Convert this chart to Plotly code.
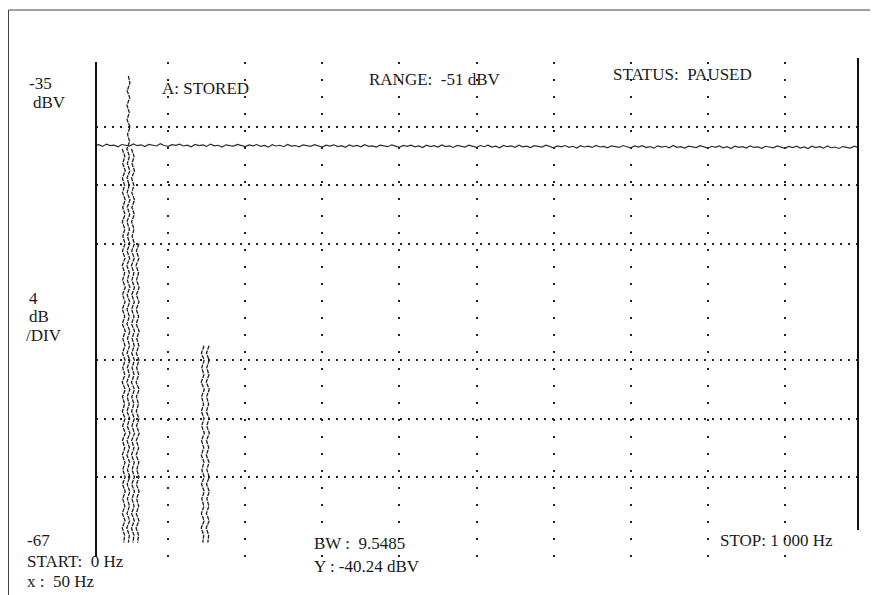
import plotly.graph_objects as go

# ---------------- data ----------------
freq_hz = [f for f in range(0, 1001, 5)]
trace_dbv = [
    -40.18, -40.29, -40.21, -40.33, -40.17, -40.27, -40.24, -40.35, -40.20, -40.26,
    -40.31, -40.16, -40.28, -40.22, -40.34, -40.19, -40.25, -40.30, -40.14, -40.27,
    -40.32, -40.21, -40.26, -40.18, -40.30, -40.24, -40.36, -40.20, -40.28, -40.23,
    -40.33, -40.17, -40.29, -40.25, -40.37, -40.22, -40.27, -40.31, -40.19, -40.28,
    -40.34, -40.23, -40.29, -40.20, -40.32, -40.26, -40.38, -40.21, -40.30, -40.25,
    -40.35, -40.19, -40.31, -40.27, -40.36, -40.23, -40.29, -40.33, -40.21, -40.30,
    -40.37, -40.24, -40.31, -40.22, -40.34, -40.28, -40.39, -40.23, -40.32, -40.26,
    -40.36, -40.21, -40.33, -40.29, -40.38, -40.25, -40.30, -40.35, -40.22, -40.31,
    -40.39, -40.26, -40.33, -40.24, -40.36, -40.29, -40.41, -40.25, -40.34, -40.28,
    -40.37, -40.23, -40.34, -40.30, -40.40, -40.26, -40.32, -40.37, -40.24, -40.33,
    -40.40, -40.27, -40.35, -40.25, -40.38, -40.31, -40.42, -40.26, -40.35, -40.29,
    -40.39, -40.24, -40.36, -40.31, -40.41, -40.28, -40.33, -40.38, -40.25, -40.34,
    -40.42, -40.29, -40.36, -40.27, -40.39, -40.32, -40.44, -40.28, -40.37, -40.31,
    -40.40, -40.26, -40.37, -40.33, -40.43, -40.29, -40.35, -40.40, -40.27, -40.36,
    -40.43, -40.30, -40.38, -40.28, -40.41, -40.34, -40.45, -40.29, -40.38, -40.32,
    -40.42, -40.27, -40.39, -40.34, -40.44, -40.31, -40.36, -40.41, -40.28, -40.37,
    -40.45, -40.32, -40.39, -40.30, -40.43, -40.35, -40.47, -40.31, -40.40, -40.34,
    -40.44, -40.29, -40.40, -40.36, -40.46, -40.32, -40.38, -40.43, -40.30, -40.39,
    -40.46, -40.33, -40.41, -40.31, -40.44, -40.37, -40.48, -40.32, -40.41, -40.35,
    -40.45, -40.30, -40.42, -40.37, -40.47, -40.34, -40.39, -40.44, -40.31, -40.40,
    -40.38,
]

# stored (A: STORED) traces: vertical squiggles at 50 Hz and 150 Hz
stored_levels_dbv = [
    -35.5, -36.0, -36.5, -37.0, -37.5, -38.0, -38.5, -39.0, -39.5, -40.0,
    -40.5, -41.0, -41.5, -42.0, -42.5, -43.0, -43.5, -44.0, -44.5, -45.0,
    -45.5, -46.0, -46.5, -47.0, -47.5, -48.0, -48.5, -49.0, -49.5, -50.0,
    -50.5, -51.0, -51.5, -52.0, -52.5, -53.0, -53.5, -54.0, -54.5, -55.0,
    -55.5, -56.0, -56.5, -57.0, -57.5, -58.0, -58.5, -59.0, -59.5, -60.0,
    -60.5, -61.0, -61.5, -62.0, -62.5, -63.0, -63.5, -64.0, -64.5, -65.0,
    -65.5, -66.0, -66.5, -67.0, -67.5,
]
stored_wiggle_hz = [
    0.0, 2.0, -1.6, 1.8, -1.9, 1.2, -1.7, 2.1, -1.1, 1.6,
    -2.0, 1.4, -1.3, 1.9, -1.8, 1.1, -1.6, 2.0, -1.4, 1.7,
    -1.9, 1.3, -1.2, 1.8, -1.7, 1.6, -2.0, 1.2, -1.4, 1.9,
    -1.6, 1.7, -1.8, 1.3, -1.9, 2.0, -1.2, 1.6, -1.7, 1.8,
    -1.3, 1.4, -2.0, 1.9, -1.6, 1.1, -1.8, 1.7, -1.4, 2.0,
    -1.7, 1.3, -1.9, 1.6, -1.2, 1.8, -1.6, 1.9, -1.3, 1.4,
    -1.8, 1.7, -2.0, 1.2, 0.0,
]
stored_centre_hz = [42.5, 48.5, 54.5, 60.5, 145.0, 151.5]
stored_top_dbv = [-40.5, -35.5, -40.5, -47.0, -54.0, -54.0]

x_grid_hz = [100, 200, 300, 400, 500, 600, 700, 800, 900]
y_grid_dbv = [-39, -43, -47, -55, -59, -63]

# ---------------- figure ----------------
# page body has an 8 px margin, so the figure is drawn 8 px in from the window
OFF = 8
W, H = 878 - OFF, 595 - OFF
ML, MR, MT, MB = 96 - OFF, 20, 62 - OFF, 38
PW, PH = W - ML - MR, H - MT - MB


def px(x):  # reference window pixel -> paper
    return (x - OFF - ML) / PW


def py(y):
    return (H - MB - (y - OFF)) / PH


fig = go.Figure()

ink = "#1e1e1e"
for c, top in zip(stored_centre_hz, stored_top_dbv):
    i0 = stored_levels_dbv.index(top)
    fig.add_trace(go.Scatter(
        x=[c + w for w in stored_wiggle_hz[i0:]],
        y=stored_levels_dbv[i0:],
        mode="lines",
        line=dict(color=ink, width=1.3, dash="4px,1px"),
        hoverinfo="skip", showlegend=False,
    ))

fig.add_trace(go.Scatter(
    x=freq_hz, y=trace_dbv, mode="lines",
    line=dict(color="#2e2e2e", width=1.2),
    showlegend=False,
))

fig.update_xaxes(
    range=[6.5, 994.8], tickvals=x_grid_hz, showticklabels=False, ticks="",
    showgrid=True, gridcolor="#222", gridwidth=1.5, griddash="2px,15px",
    zeroline=False, showline=False,
)
fig.update_yaxes(
    range=[-68.49, -34.54], tickvals=y_grid_dbv, showticklabels=False, ticks="",
    showgrid=True, gridcolor="#222", gridwidth=1.5, griddash="2px,6px",
    zeroline=False, showline=False,
)

font = dict(family="Liberation Serif", size=17, color="#1a1a1a")


def label(text, x, y, anchor="left"):
    fig.add_annotation(text=text, x=px(x), y=py(y), xref="paper", yref="paper",
                       xanchor=anchor, yanchor="middle", showarrow=False, font=font)


label("-35", 27, 83)
label("dBV", 31, 103)
label("4", 27, 298)
label("dB", 27, 316)
label("/DIV", 24, 335)
label("-67", 25, 540)
label("START:  0 Hz", 25, 561)
label("x :  50 Hz", 25, 581)
label("A: STORED", 205, 88, "center")
label("RANGE:  -51 dBV", 435, 79, "center")
label("STATUS:  PAUSED", 682, 75, "center")
label("BW :  9.5485", 312, 543)
label("Y : -40.24 dBV", 312, 566)
label("STOP: 1 000 Hz", 718, 540)

shapes = [
    # left and right axis bars
    dict(type="line", xref="paper", yref="paper", x0=px(96), x1=px(96), y0=py(557), y1=py(62),
         line=dict(color="#111", width=2)),
    dict(type="line", xref="paper", yref="paper", x0=px(858), x1=px(858), y0=py(530), y1=py(58),
         line=dict(color="#111", width=2)),
    # outer frame (top and left edges visible)
    dict(type="line", xref="paper", yref="paper", x0=px(8.5), x1=px(880), y0=py(10), y1=py(10),
         line=dict(color="#444", width=1)),
    dict(type="line", xref="paper", yref="paper", x0=px(8.5), x1=px(8.5), y0=py(10), y1=py(600),
         line=dict(color="#444", width=1)),
]

fig.update_layout(
    width=W, height=H,
    margin=dict(l=ML, r=MR, t=MT, b=MB),
    paper_bgcolor="white", plot_bgcolor="white",
    shapes=shapes, showlegend=False,
)

fig.write_html("out.html")
